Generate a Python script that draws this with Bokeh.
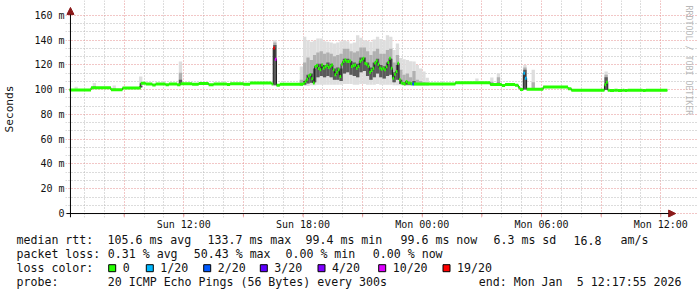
import math
from bokeh.plotting import figure
from bokeh.models import ColumnDataSource, FixedTicker, Range1d, Arrow, NormalHead, Label
from bokeh.layouts import column
from bokeh.embed import file_html
from bokeh.resources import INLINE
from bokeh.core.properties import value

# ---------------- data (time = minutes since Sun 2026-01-04 00:00) ----------------
graph_start = 377.9   # Sun 06:17:55
graph_end = 2177.9    # Mon 12:17:55

med_t = [375, 440, 500, 535, 590, 605, 625, 635, 665, 675, 700, 710, 745, 765, 795, 810,
         850, 860, 900, 920, 985,
         990, 995, 1000, 1010,
         1080, 1085, 1090, 1095, 1100, 1105, 1110, 1115, 1120, 1125, 1130, 1135, 1140, 1145,
         1150, 1155, 1160, 1165, 1170, 1175, 1180, 1185, 1190, 1195, 1200, 1205, 1210, 1215,
         1220, 1225, 1230, 1235, 1240, 1245, 1250, 1255, 1260, 1265, 1270, 1275, 1280, 1285,
         1290, 1295, 1300, 1305, 1310, 1315, 1320, 1325, 1330, 1335, 1340, 1345, 1350, 1355,
         1360, 1365, 1370, 1375, 1380, 1385, 1390, 1395, 1400, 1405, 1410,
         1415, 1540, 1645, 1680, 1690, 1720, 1730, 1735, 1745, 1750, 1755, 1805, 1880, 1890,
         1990, 1995, 2000, 2005, 2020, 2030, 2045, 2050, 2060, 2105, 2115]
med_end = 2180
med_v = [99.8, 101.6, 100.0, 101.4, 105.2, 104.6, 103.8, 104.6, 104.0, 104.6, 104.0, 104.8,
         104.4, 105.0, 104.0, 104.6, 104.2, 104.8, 104.4, 105.4, 104.6,
         133.7, 124.6, 103.6, 104.4,
         105.0, 106.7, 108.5, 111.0, 112.0, 108.8, 105.3, 118.7, 119.5, 117.0, 116.0, 120.0,
         117.3, 118.5, 119.5, 118.0, 119.0, 120.0, 116.0, 112.0, 114.0, 116.0, 110.7, 120.5,
         122.7, 124.0, 123.0, 122.7, 123.2, 118.7, 119.5, 120.0, 117.3, 118.7, 122.7, 124.0,
         125.3, 121.3, 120.5, 119.0, 114.0, 115.5, 117.3, 121.5, 123.2, 120.5, 117.5, 116.5,
         117.3, 116.0, 118.5, 122.0, 125.3, 117.3, 109.3, 112.5, 114.7, 121.3, 108.0, 105.3,
         105.0, 104.5, 106.7, 105.3, 105.3, 104.8, 104.5,
         104.5, 105.6, 104.2, 103.4, 104.2, 103.6, 101.8, 100.2, 113.3, 109.3, 100.4, 102.2,
         100.8, 99.6, 104.0, 106.0, 99.6, 99.4, 99.6, 99.4, 99.6, 99.4, 99.6, 99.4, 99.6]
# samples with packet loss (all others 0/20)
loss_t = [990, 995, 1410, 1745, 1750]
loss_n = [19, 10, 2, 1, 1]

# smoke (ping spread) per 10-minute slot
smoke_t = [390, 445, 505, 585, 705, 990,
           1070, 1080, 1090, 1100, 1110, 1120, 1130, 1140, 1150, 1160, 1170, 1180, 1190,
           1200, 1210, 1220, 1230, 1240, 1250, 1260, 1270, 1280, 1290, 1300, 1310, 1320,
           1330, 1340, 1350, 1360, 1370, 1380, 1390, 1400, 1410, 1420, 1430, 1440, 1450,
           1600, 1645, 1665, 1745, 1770, 1990]
smoke_lo = [99.6, 101.0, 99.8, 101.5, 104.0, 103.5,
            103.0, 103.0, 103.0, 103.5, 103.5, 104.0, 104.0, 104.0, 104.0, 104.0, 104.0,
            104.0, 104.0, 104.5, 104.5, 104.5, 104.0, 104.0, 104.5, 104.5, 104.0, 104.0,
            104.0, 104.5, 104.0, 104.0, 104.0, 104.0, 103.5, 103.5, 103.5, 103.0, 103.0,
            103.0, 103.0, 103.0, 103.0, 103.0, 103.0,
            104.6, 104.0, 103.4, 100.0, 100.4, 99.6]
smoke_hi = [102.3, 105.3, 103.4, 110.7, 122.7, 140.0,
            118.7, 142.7, 140.0, 138.7, 139.5, 141.3, 141.3, 139.0, 138.7, 138.0, 137.3,
            138.0, 139.0, 140.0, 139.0, 137.3, 138.0, 144.0, 142.0, 140.0, 139.5, 138.7,
            140.5, 142.7, 141.0, 140.0, 144.0, 142.7, 132.0, 137.3, 125.6, 124.5, 124.0,
            123.0, 122.7, 120.0, 117.0, 114.7, 109.6,
            109.0, 109.9, 113.3, 120.0, 116.0, 114.7]
smoke_mid = [100.6, 103.0, 101.0, 105.0, 113.6, 138.0,
             108.0, 122.0, 126.0, 124.0, 128.0, 130.0, 131.0, 129.0, 130.0, 129.0, 127.0,
             128.0, 129.0, 133.0, 133.0, 131.0, 130.0, 131.0, 134.0, 134.0, 131.0, 128.0,
             131.0, 133.0, 129.0, 129.0, 132.0, 133.0, 122.0, 128.0, 116.0, 112.0, 113.0,
             110.0, 115.0, 108.0, 107.0, 106.0, 105.5,
             106.0, 106.5, 110.0, 118.0, 106.0, 112.0]
smoke_in_lo = [99.7, 101.3, 100.0, 102.0, 104.4, 103.6,
               103.5, 104.0, 105.0, 105.5, 106.0, 110.0, 111.0, 110.0, 111.0, 110.0, 108.0,
               108.0, 107.0, 113.0, 114.0, 112.0, 111.0, 110.0, 114.0, 115.0, 111.0, 108.0,
               110.0, 113.0, 110.0, 109.0, 111.0, 112.0, 106.0, 108.0, 104.5, 104.0, 104.0,
               104.0, 104.0, 104.0, 104.0, 104.0, 104.0,
               104.8, 104.2, 103.6, 100.2, 100.5, 99.8]
smoke_in_hi = [100.2, 102.0, 100.5, 103.0, 108.0, 136.0,
               104.5, 107.0, 112.0, 113.0, 117.0, 121.0, 121.0, 120.0, 122.0, 121.0, 117.0,
               118.0, 117.0, 125.0, 125.0, 123.0, 122.0, 121.0, 126.0, 126.0, 122.0, 118.0,
               122.0, 125.0, 120.0, 119.0, 122.0, 125.0, 114.0, 120.0, 108.0, 106.0, 106.5,
               105.5, 107.0, 105.0, 104.8, 104.6, 104.5,
               105.4, 105.0, 105.5, 116.0, 101.0, 110.0]
smoke_slot = 10  # minutes per smoke slot

y_ticks = [0, 20, 40, 60, 80, 100, 120, 140, 160]
y_tick_labels = ["0", "20 m", "40 m", "60 m", "80 m", "100 m", "120 m", "140 m", "160 m"]
x_ticks = [540, 720, 900, 1080, 1260, 1440, 1620, 1800, 1980, 2160]
x_tick_labels = ["", "Sun 12:00", "", "Sun 18:00", "", "Mon 00:00", "", "Mon 06:00", "", "Mon 12:00"]

loss_levels = [0, 1, 2, 3, 4, 10, 19]
loss_colors = ["#26ff00", "#00b8ff", "#0059ff", "#5e00ff", "#7e00ff", "#dd00ff", "#ff0000"]
loss_labels = ["0", "1/20", "2/20", "3/20", "4/20", "10/20", "19/20"]

rtt_parts = ["median rtt:", "105.6 ms avg", "133.7 ms max", "99.4 ms min", "99.6 ms now",
             "6.3 ms sd", "16.8", "am/s"]
loss_parts = ["packet loss:", "0.31 % avg", "50.43 % max", "0.00 % min", "0.00 % now"]
loss_title = "loss color:"
probe_parts = ["probe:", "20 ICMP Echo Pings (56 Bytes) every 300s"]
end_parts = ["end: Mon Jan", "5 12:17:55 2026"]
watermark = "RRDTOOL / TOBI OETIKER"

# ---------------- styles / layout ----------------
MONO = "DejaVu Sans Mono"
legend_box_x = [111.7, 149.3, 206.7, 263.3, 321.0, 381.7, 446.0]
row_rtt_x = [16, 107, 207, 305, 400, 493, 573, 620]
row_loss_x = [16, 107.3, 193.3, 285, 372.3]
row_probe_x = [16, 107.3]
row_end_x = [478.3, 576.3]
row_y = [7.5, 21.5, 35.0, 49.5]

PX_X = 3.0     # minutes per pixel
PX_Y = 1.25    # pixels per ms


def color_for(n):
    c = loss_colors[0]
    for lv, col in zip(loss_levels, loss_colors):
        if n >= lv:
            c = col
    return c


loss_map = dict(zip(loss_t, loss_n))
seg_color = [color_for(loss_map.get(t, 0)) for t in med_t]
seg_x1 = med_t[1:] + [med_end]

# frame covers image px x 61..697, y 0..219 ; plot origin (graph_start, 0) at px (66, 215)
x0 = graph_start - 5 * PX_X
y0 = -4 / PX_Y
p = figure(width=697, height=232,
           x_range=Range1d(x0, x0 + 636 * PX_X),
           y_range=Range1d(y0, y0 + 219 / PX_Y),
           output_backend="svg", toolbar_location=None,
           min_border_left=61, min_border_right=0, min_border_top=0, min_border_bottom=13)
p.frame_align = False
p.background_fill_color = "white"
p.border_fill_color = "white"
p.outline_line_color = None

grid_major = [m for m in range(540, 2161, 180)]
grid_minor = [m for m in range(420, 2161, 60) if m % 180 != 0]
xg = p.xgrid[0]
xg.ticker = FixedTicker(ticks=grid_major, minor_ticks=grid_minor)
xg.bounds = (0, 160)
xg.grid_line_color = "#e48f8f"
xg.grid_line_dash = "1 2"
xg.minor_grid_line_color = "#b8b8b8"
xg.minor_grid_line_dash = "1 2"
yg = p.ygrid[0]
yg.ticker = FixedTicker(ticks=y_ticks, minor_ticks=[k * 20 / 3 for k in range(1, 25) if k % 3])
yg.bounds = (graph_start, graph_end + 2)
yg.grid_line_color = "#e48f8f"
yg.grid_line_dash = "1 2"
yg.minor_grid_line_color = "#b8b8b8"
yg.minor_grid_line_dash = "1 2"

# smoke
sl = [t + smoke_slot for t in smoke_t]
p.quad(left=smoke_t, right=sl, bottom=smoke_lo, top=smoke_hi, fill_color="#dedede", line_color=None)
p.quad(left=smoke_t, right=sl, bottom=smoke_in_lo, top=smoke_mid, fill_color="#b0b0b0", line_color=None)
p.quad(left=smoke_t, right=sl, bottom=smoke_in_lo, top=smoke_in_hi, fill_color="#5a5a5a", line_color=None)

# median
p.step(x=med_t + [med_end], y=med_v + [med_v[-1]], mode="after", line_color="#202020", line_width=1)
src = ColumnDataSource(dict(x0=med_t, x1=seg_x1, y=med_v, color=seg_color))
p.segment(x0="x0", y0="y", x1="x1", y1="y", line_color="color", line_width=3, source=src)

# small tick marks under the time axis
p.segment(x0=grid_major, x1=grid_major, y0=[-2.4] * len(grid_major), y1=[0] * len(grid_major),
          line_color="#e48f8f", line_width=1)

# axes (labels only; lines drawn with arrows)
p.xaxis.ticker = FixedTicker(ticks=x_ticks, minor_ticks=[])
p.xaxis.major_label_overrides = dict(zip(x_ticks, x_tick_labels))
p.xaxis.axis_line_color = None
p.xaxis.major_tick_line_color = None
p.xaxis.minor_tick_line_color = None
p.xaxis.major_tick_out = 0
p.xaxis.major_label_standoff = 1
p.xaxis.major_label_text_font = MONO
p.xaxis.major_label_text_font_size = "10px"
p.xaxis.major_label_text_color = "#111111"

p.yaxis.ticker = FixedTicker(ticks=y_ticks, minor_ticks=[])
p.yaxis.major_label_overrides = dict(zip(y_ticks, y_tick_labels))
p.yaxis.axis_line_color = None
p.yaxis.major_tick_line_color = None
p.yaxis.minor_tick_line_color = None
p.yaxis.major_tick_out = 0
p.yaxis.major_label_standoff = 1
p.yaxis.major_label_text_font = MONO
p.yaxis.major_label_text_font_size = "10px"
p.yaxis.major_label_text_color = "#111111"
p.yaxis.axis_label = "Seconds"
p.yaxis.axis_label_text_font = MONO
p.yaxis.axis_label_text_font_size = "11.2px"
p.yaxis.axis_label_text_font_style = "normal"
p.yaxis.axis_label_text_color = "#111111"
p.yaxis.axis_label_standoff = 15

head_c = "#8b1a1a"
p.add_layout(Arrow(end=NormalHead(size=7, fill_color=head_c, line_color=head_c),
                   x_start=graph_start - 4 * PX_X, y_start=0,
                   x_end=graph_start + 609 * PX_X, y_end=0,
                   line_color="black", line_width=1))
p.add_layout(Arrow(end=NormalHead(size=7, fill_color=head_c, line_color=head_c),
                   x_start=graph_start, y_start=-4 / PX_Y,
                   x_end=graph_start, y_end=208 / PX_Y,
                   line_color="black", line_width=1))

p.add_layout(Label(x=graph_start + (688 - 66) * PX_X, y=210 / PX_Y, text=watermark,
                   angle=-math.pi / 2, text_font=MONO, text_font_size="8.3px",
                   text_color="#b8b8b8", text_align="left", text_baseline="middle"))

# ---------------- legend area ----------------
p2 = figure(width=697, height=65, x_range=Range1d(0, 697), y_range=Range1d(65, 0),
            output_backend="svg", toolbar_location=None, x_axis_type=None, y_axis_type=None,
            min_border=0)
p2.frame_align = False
p2.grid.visible = False
p2.outline_line_color = None
p2.background_fill_color = "white"
p2.border_fill_color = "white"

txt = dict(text_font=value(MONO), text_font_size=value("11.6px"), text_color="#111111",
           text_baseline="middle")

rows = [(rtt_parts, row_rtt_x, row_y[0]), (loss_parts, row_loss_x, row_y[1]),
        (probe_parts, row_probe_x, row_y[3]), (end_parts, row_end_x, row_y[3])]
for parts, xs, yy in rows:
    p2.text(x=xs, y=[yy] * len(parts), text=parts, **txt)
p2.text(x=[16], y=[row_y[2]], text=[loss_title], **txt)
p2.rect(x=legend_box_x, y=[35.7] * len(legend_box_x), width=7, height=7,
        fill_color=loss_colors, line_color="black", line_width=1)
p2.text(x=[bx + 10.5 for bx in legend_box_x], y=[row_y[2]] * len(legend_box_x),
        text=loss_labels, **txt)

layout = column(p, p2, spacing=0)
open("out.html", "w").write(file_html(layout, INLINE))
